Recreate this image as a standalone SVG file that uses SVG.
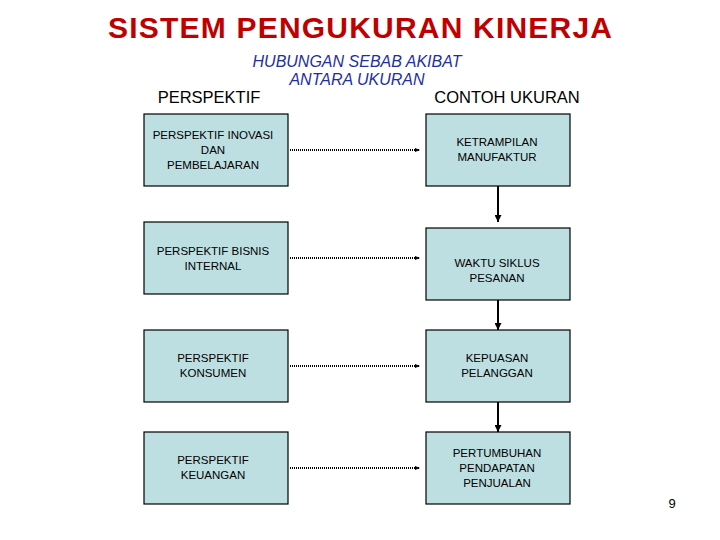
<svg xmlns="http://www.w3.org/2000/svg" width="720" height="540" viewBox="0 0 720 540">
<style>
.b{fill:#BDDFE2;stroke:#000;stroke-width:1.2}
.t{font-family:"Liberation Sans",Arial,sans-serif;font-size:11.5px;text-anchor:middle;fill:#000}
.d{stroke:#000;stroke-width:2;stroke-dasharray:1 1;fill:none}
.s{stroke:#000;stroke-width:2;fill:none}
</style>
<defs><marker id="a" markerWidth="5" markerHeight="4" refX="5" refY="2" orient="auto" markerUnits="userSpaceOnUse"><path d="M0,0L5,2L0,4z" fill="#000"/></marker>
<marker id="v" markerWidth="7" markerHeight="7" refX="7" refY="3.5" orient="auto" markerUnits="userSpaceOnUse"><path d="M0,0L7,3.5L0,7z" fill="#000"/></marker></defs>
<rect width="720" height="540" fill="#fff"/>
<text x="360" y="38" font-family="Liberation Sans,Arial,sans-serif" font-size="30" font-weight="bold" fill="#C00000" text-anchor="middle" textLength="504">SISTEM PENGUKURAN KINERJA</text>
<text x="357" y="67" font-family="Liberation Sans,Arial,sans-serif" font-size="16" font-style="italic" fill="#1F2F9F" text-anchor="middle">HUBUNGAN SEBAB AKIBAT</text>
<text x="357" y="85" font-family="Liberation Sans,Arial,sans-serif" font-size="16" font-style="italic" fill="#1F2F9F" text-anchor="middle">ANTARA UKURAN</text>
<text x="209" y="103" font-family="Liberation Sans,Arial,sans-serif" font-size="16.5" text-anchor="middle">PERSPEKTIF</text>
<text x="507" y="103" font-family="Liberation Sans,Arial,sans-serif" font-size="16.5" text-anchor="middle">CONTOH UKURAN</text>
<g id="l1"><rect class="b" x="144" y="114" width="144" height="72"/><text class="t" x="213" y="139">PERSPEKTIF INOVASI</text><text class="t" x="213" y="154">DAN</text><text class="t" x="213" y="169">PEMBELAJARAN</text></g>
<g id="l2"><rect class="b" x="144" y="222" width="144" height="72"/><text class="t" x="213" y="255">PERSPEKTIF BISNIS</text><text class="t" x="213" y="270">INTERNAL</text></g>
<g id="l3"><rect class="b" x="144" y="330" width="144" height="72"/><text class="t" x="213" y="362">PERSPEKTIF</text><text class="t" x="213" y="377">KONSUMEN</text></g>
<g id="l4"><rect class="b" x="144" y="432" width="144" height="72"/><text class="t" x="213" y="464">PERSPEKTIF</text><text class="t" x="213" y="479">KEUANGAN</text></g>
<g id="r1"><rect class="b" x="426" y="114" width="144" height="72"/><text class="t" x="497" y="146">KETRAMPILAN</text><text class="t" x="497" y="161">MANUFAKTUR</text></g>
<g id="r2"><rect class="b" x="426" y="228" width="144" height="72"/><text class="t" x="497" y="267">WAKTU SIKLUS</text><text class="t" x="497" y="282">PESANAN</text></g>
<g id="r3"><rect class="b" x="426" y="330" width="144" height="72"/><text class="t" x="497" y="362">KEPUASAN</text><text class="t" x="497" y="377">PELANGGAN</text></g>
<g id="r4"><rect class="b" x="426" y="432" width="144" height="72"/><text class="t" x="497" y="457">PERTUMBUHAN</text><text class="t" x="497" y="472">PENDAPATAN</text><text class="t" x="497" y="487">PENJUALAN</text></g>
<g id="connectors">
<path class="d" d="M290,150H420" marker-end="url(#a)"/>
<path class="d" d="M290,258H420" marker-end="url(#a)"/>
<path class="d" d="M290,366H420" marker-end="url(#a)"/>
<path class="d" d="M290,468H420" marker-end="url(#a)"/>
<path class="s" d="M498,186V222" marker-end="url(#v)"/>
<path class="s" d="M498,300V330" marker-end="url(#v)"/>
<path class="s" d="M498,402V432" marker-end="url(#v)"/>
</g>
<text x="672" y="508" font-family="Liberation Sans,Arial,sans-serif" font-size="13" text-anchor="middle">9</text>
</svg>
